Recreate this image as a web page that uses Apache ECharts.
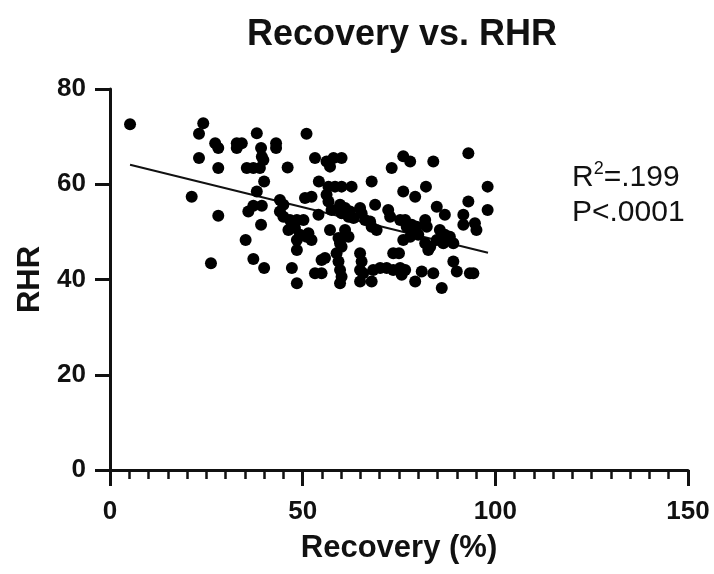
<!DOCTYPE html>
<html>
<head>
<meta charset="utf-8">
<script src="https://cdn.jsdelivr.net/npm/echarts@6/dist/echarts.min.js"></script>
<style>
  html, body { margin: 0; padding: 0; background: #fff; }
  #chart { width: 714px; height: 574px; }
</style>
</head>
<body>
<div id="chart"></div>
<script>
// values: [Recovery %, RHR]
var points = [
    [5.2, 72.6], [24.2, 72.8], [23.1, 70.6], [27.3, 68.6], [28.1, 67.6], [23.1, 65.5],
    [28.1, 63.4], [21.2, 57.4], [28.1, 53.4], [26.2, 43.4], [32.9, 68.6], [34.2, 68.6],
    [32.9, 67.6], [38.1, 70.7], [39.2, 67.6], [39.4, 65.8], [39.8, 65.1], [43.1, 68.6],
    [43.1, 67.6], [35.5, 63.4], [37.2, 63.4], [38.9, 63.4], [46.1, 63.5], [40.0, 60.6],
    [38.1, 58.5], [37.2, 55.5], [39.4, 55.5], [35.9, 54.3], [39.2, 51.5], [35.2, 48.3],
    [37.2, 44.3], [40.0, 42.4], [47.2, 42.4], [44.1, 56.7], [45.0, 55.7], [44.1, 54.3],
    [45.0, 53.2], [46.7, 52.5], [46.3, 50.4], [48.5, 48.3], [48.5, 46.2], [48.5, 39.2],
    [51.0, 70.6], [53.2, 65.5], [56.2, 64.8], [57.1, 63.7], [58.0, 65.5], [60.1, 65.5],
    [54.2, 60.6], [56.7, 59.5], [58.4, 59.5], [60.1, 59.5], [62.7, 59.5], [67.9, 60.6],
    [50.6, 57.1], [52.3, 57.4], [56.2, 57.8], [56.7, 56.4], [57.5, 54.6], [59.7, 55.7],
    [61.0, 55.0], [62.3, 54.3], [60.1, 53.9], [61.9, 53.2], [63.2, 52.9], [64.9, 55.0],
    [65.3, 53.9], [66.2, 52.5], [67.5, 52.2], [67.9, 51.1], [69.2, 50.4], [68.8, 55.7],
    [72.2, 54.6], [72.7, 53.2], [54.1, 53.6], [48.5, 52.5], [50.2, 52.5], [48.0, 50.8],
    [49.3, 49.4], [51.0, 49.0], [52.3, 48.3], [57.1, 50.4], [59.3, 48.7], [59.7, 47.6],
    [60.1, 46.9], [58.8, 45.5], [59.3, 43.8], [59.7, 42.0], [60.1, 40.6], [59.7, 39.2],
    [53.2, 41.3], [54.9, 41.3], [54.9, 44.1], [55.8, 44.5], [64.9, 45.5], [65.3, 43.8],
    [64.9, 42.0], [65.7, 41.3], [64.9, 39.6], [67.9, 39.6], [68.3, 42.0], [70.1, 42.4],
    [71.8, 42.4], [73.5, 42.0], [75.3, 42.4], [76.6, 42.0], [73.5, 45.5], [75.0, 45.5],
    [76.1, 65.9], [77.9, 64.8], [73.1, 63.4], [83.9, 64.8], [93.0, 66.5], [76.1, 58.5],
    [79.2, 57.4], [82.0, 59.5], [75.3, 52.5], [76.6, 52.5], [77.0, 51.1], [78.3, 51.5],
    [79.6, 51.1], [78.7, 49.7], [76.1, 48.3], [77.9, 49.0], [81.8, 52.5], [82.2, 51.1],
    [81.8, 47.6], [82.6, 46.2], [84.8, 55.3], [86.9, 53.6], [85.6, 50.4], [86.9, 49.4],
    [88.2, 49.0], [89.1, 47.6], [86.5, 47.6], [84.8, 48.3], [89.1, 43.8], [90.0, 41.7],
    [93.4, 41.3], [94.3, 41.3], [83.9, 41.3], [80.9, 41.7], [79.2, 39.6], [86.1, 38.2],
    [91.7, 53.6], [91.7, 51.5], [94.7, 51.8], [95.1, 50.4], [93.0, 56.4], [98.0, 59.5],
    [98.0, 54.6], [61.0, 50.4], [61.9, 49.0], [75.7, 41.0], [83.1, 46.9], [80.0, 49.4],
    [51.5, 49.7]
];

// fitted line, ends
var fitX = [5.2, 98.1];
var fitY = [64.1, 45.6];

var xTicks = [0, 150, 50];   // min, max, interval
var yTicks = [0, 80, 20];

var statLines = ['R{sup|2}=.199', 'P<.0001'];

var chart = echarts.init(document.getElementById('chart'));

var axisFont = {
    fontFamily: 'Liberation Sans',
    fontWeight: 'bold',
    fontSize: 26,
    color: '#111'
};
var nameFont = {
    fontFamily: 'Liberation Sans',
    fontWeight: 'bold',
    fontSize: 31,
    color: '#111'
};

var option = {
    animation: false,
    title: {
        text: 'Recovery vs. RHR',
        left: 397,
        textAlign: 'center',
        top: 12,
        textStyle: {
            fontFamily: 'Liberation Sans',
            fontWeight: 'bold',
            fontSize: 36,
            color: '#111'
        }
    },
    grid: {
        left: 110,
        right: 26,
        top: 89,
        bottom: 104
    },
    xAxis: {
        type: 'value',
        min: xTicks[0],
        max: xTicks[1],
        interval: xTicks[2],
        name: 'Recovery (%)',
        nameLocation: 'middle',
        nameGap: 63,
        nameTextStyle: nameFont,
        axisLine: { show: true, onZero: false, lineStyle: { color: '#111', width: 3 } },
        axisTick: { show: true, length: 16, lineStyle: { color: '#111', width: 3 } },
        minorTick: { show: true, splitNumber: 10, length: 9, lineStyle: { color: '#111', width: 2.5 } },
        axisLabel: Object.assign({ margin: 29 }, axisFont),
        splitLine: { show: false }
    },
    yAxis: {
        type: 'value',
        min: yTicks[0],
        max: yTicks[1],
        interval: yTicks[2],
        name: 'RHR',
        nameLocation: 'middle',
        nameGap: 64,
        nameTextStyle: nameFont,
        axisLine: { show: true, onZero: false, lineStyle: { color: '#111', width: 3 } },
        axisTick: { show: true, length: 15, lineStyle: { color: '#111', width: 3 } },
        axisLabel: Object.assign({ margin: 24 }, axisFont),
        splitLine: { show: false }
    },
    graphic: [
        {
            type: 'text',
            left: 572,
            top: 160,
            style: {
                text: statLines.join('\n'),
                fontFamily: 'Liberation Sans',
                fontSize: 30,
                lineHeight: 35,
                fill: '#111',
                rich: {
                    sup: {
                        fontFamily: 'Liberation Sans',
                        fontSize: 18,
                        verticalAlign: 'top',
                        padding: [0, 0, 12, 0],
                        fill: '#111'
                    }
                }
            }
        }
    ],
    series: [
        {
            type: 'scatter',
            data: points,
            symbol: 'circle',
            symbolSize: 12,
            itemStyle: { color: '#000', opacity: 1 },
            z: 3
        },
        {
            type: 'line',
            data: fitX.map(function (x, i) { return [x, fitY[i]]; }),
            symbol: 'none',
            lineStyle: { color: '#111', width: 2 },
            z: 2
        }
    ]
};

chart.setOption(option);
</script>
</body>
</html>
